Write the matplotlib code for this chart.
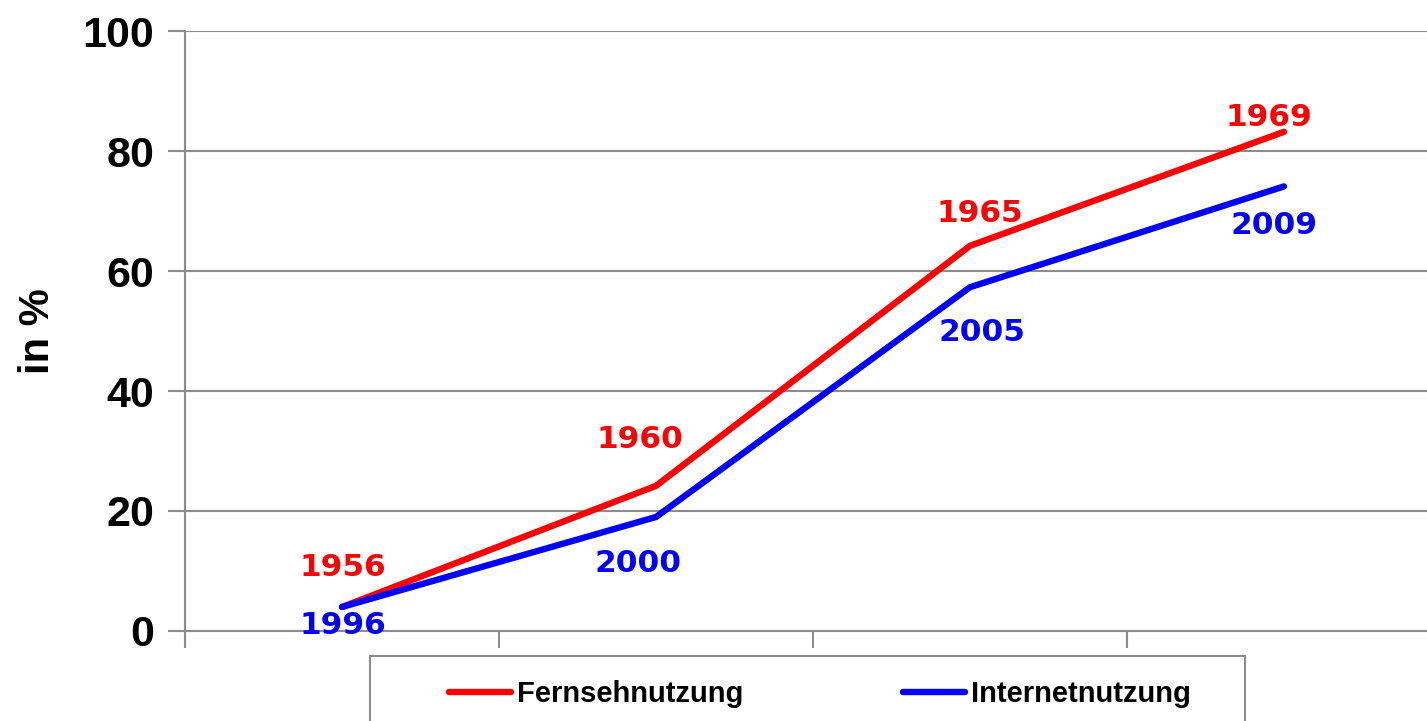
import matplotlib
matplotlib.use("Agg")
from matplotlib import pyplot as plt
from matplotlib.patches import Rectangle
import numpy as np

# values
tv_years = ["1956", "1960", "1965", "1969"]
tv_values = [4, 24.2, 64.2, 83.2]
web_years = ["1996", "2000", "2005", "2009"]
web_values = [4, 19, 57.3, 74.1]
y_ticks = [0, 20, 40, 60, 80, 100]

# label offsets in pixels (dx, dy) from each point
tv_offsets = [(1, 40), (-16, 46), (10, 32), (-15, 14)]
web_offsets = [(1, -19), (-18, -46), (12, -45), (-10, -39)]

grey = "#8c8c8c"

fig = plt.figure(figsize=(14.27, 7.21), dpi=100)
ax = fig.add_axes([185 / 1427, 1 - 631 / 721, 1256 / 1427, 600 / 721])

x = np.arange(len(tv_values))
ax.plot(x, tv_values, color="#ff0000", lw=4.6, solid_capstyle="round",
        solid_joinstyle="round", label="Fernsehnutzung", zorder=3)
ax.plot(x, web_values, color="#0000ff", lw=4.6, solid_capstyle="round",
        solid_joinstyle="round", label="Internetnutzung", zorder=4)

for xi, v, yr, off in zip(x, tv_values, tv_years, tv_offsets):
    ax.annotate(yr, (xi, v), xytext=off, textcoords="offset pixels",
                ha="center", va="center", color="#ff0000", fontsize=22.5,
                fontweight="bold", family="DejaVu Sans", zorder=5)
for xi, v, yr, off in zip(x, web_values, web_years, web_offsets):
    ax.annotate(yr, (xi, v), xytext=off, textcoords="offset pixels",
                ha="center", va="center", color="#0000ff", fontsize=22.5,
                fontweight="bold", family="DejaVu Sans", zorder=5)

ax.set_xlim(-0.5, 3.5)
ax.set_ylim(0, 100)
ax.set_yticks(y_ticks)
ax.set_yticklabels([str(t) for t in y_ticks], fontsize=31, fontweight="bold",
                   family="Liberation Sans")
ax.set_xticks(np.arange(-0.5, 4, 1))
ax.set_xticklabels([])
ax.tick_params(axis="both", direction="out", length=12, width=1.5, color=grey)
ax.tick_params(axis="y", pad=10)
ax.yaxis.grid(True, color=grey, lw=1.5)
ax.set_axisbelow(True)
for s in ["top", "right"]:
    ax.spines[s].set_visible(False)
for s in ["left", "bottom"]:
    ax.spines[s].set_color(grey)
    ax.spines[s].set_linewidth(1.5)

fig.text(38 / 1427, 1 - 331 / 721, "in %", rotation=90, ha="center", va="center",
         fontsize=30, fontweight="bold", family="Liberation Sans")

# legend box running off the bottom edge
fig.patches.append(Rectangle((370 / 1427, -0.05), 875 / 1427, 0.05 + 1 - 656 / 721,
                             transform=fig.transFigure, fill=False,
                             edgecolor=grey, lw=1.5))
fig.legend(loc="center", bbox_to_anchor=(820 / 1427, 1 - 694 / 721), ncol=2,
           frameon=False, handlelength=2.12, handletextpad=0.2, columnspacing=5.5,
           prop={"family": "Liberation Sans", "weight": "bold", "size": 21})

fig.savefig("out.png", dpi=100)
